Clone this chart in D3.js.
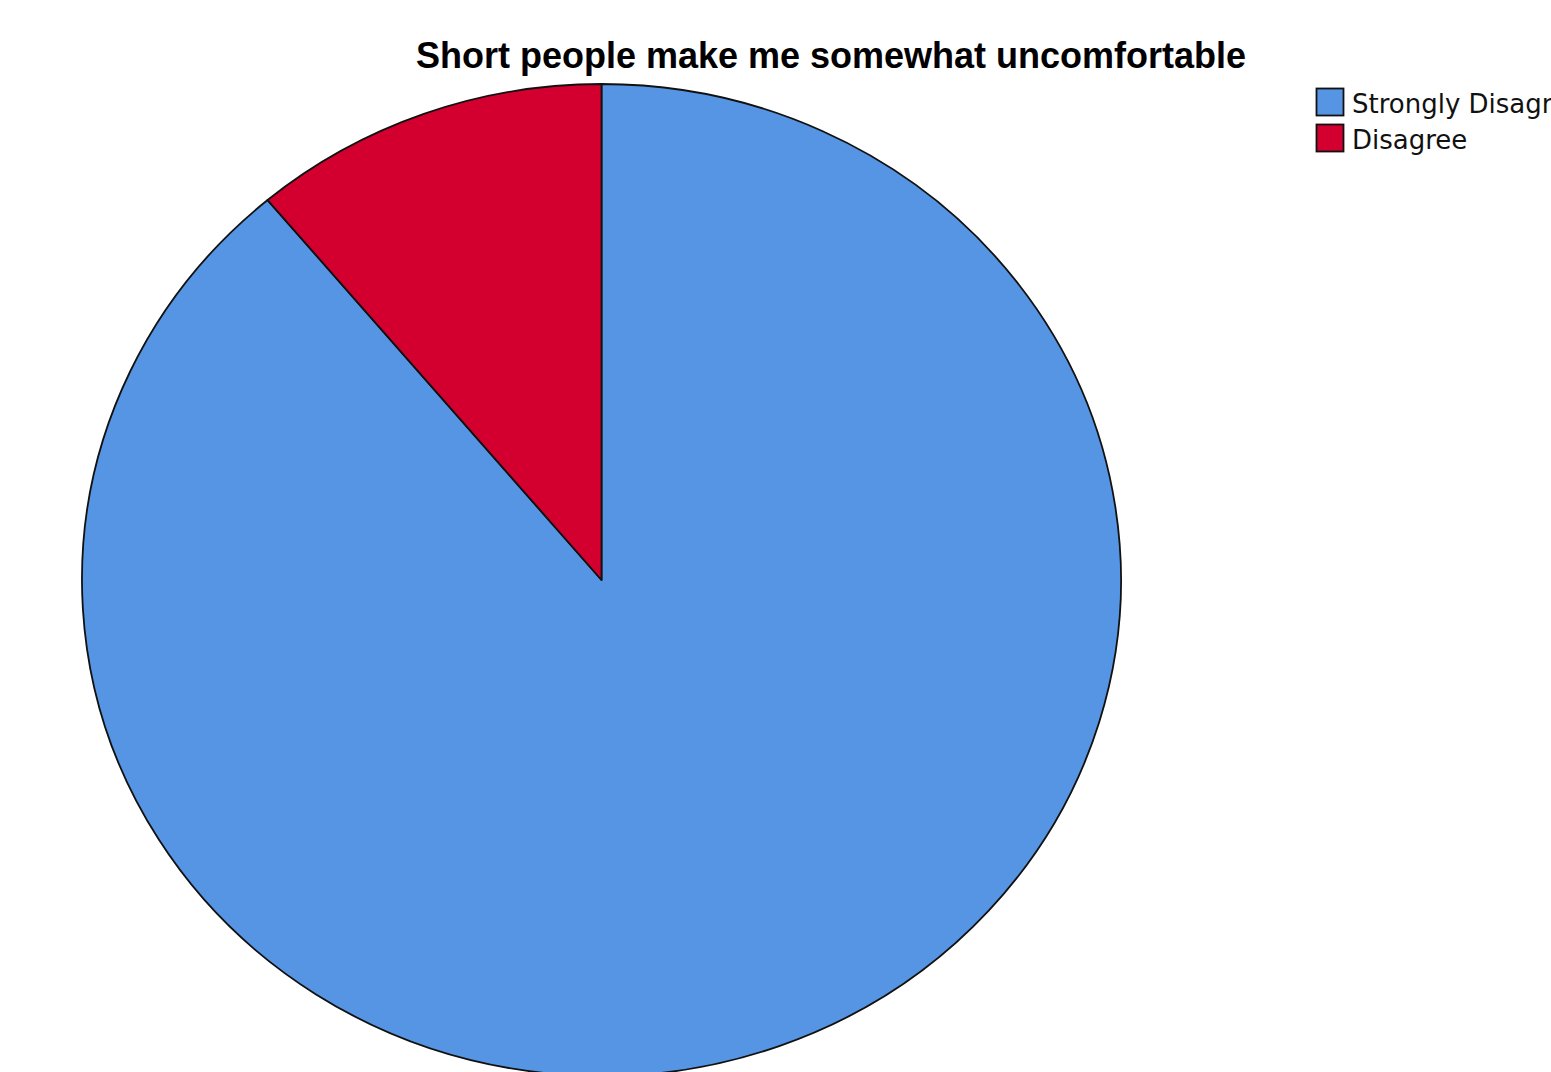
<!DOCTYPE html>
<html>
<head>
<meta charset="utf-8">
<script src="https://cdn.jsdelivr.net/npm/d3@7/dist/d3.min.js"></script>
<style>
  html, body { margin: 0; padding: 0; background: #fff; overflow: hidden; }
  svg { display: block; }
</style>
</head>
<body>
<svg id="chart" width="1551" height="1072"></svg>
<script>
const title = "Short people make me somewhat uncomfortable";
const categories = ["Strongly Disagree", "Disagree"];
const values = [8, 1];
const colors = ["#5595E3", "#D3002F"];

const svg = d3.select("#chart");
const cx = 601.5, cy = 580, rx = 519.5, ry = 496;

const data = categories.map((c, i) => ({ name: c, value: values[i], color: colors[i] }));
const pie = d3.pie().value(d => d.value).sort(null);
const arc = d3.arc().innerRadius(0).outerRadius(ry);

const g = svg.append("g")
  .attr("transform", `translate(${cx},${cy}) scale(${rx / ry},1)`);

g.selectAll("path")
  .data(pie(data))
  .join("path")
  .attr("d", arc)
  .attr("fill", d => d.data.color)
  .attr("stroke", "#111")
  .attr("stroke-width", 1.8)
  .attr("stroke-linejoin", "round")
  .attr("vector-effect", "non-scaling-stroke");

svg.append("text")
  .attr("x", 831)
  .attr("y", 68)
  .attr("text-anchor", "middle")
  .attr("font-family", "'Liberation Sans', Arial, sans-serif")
  .attr("font-weight", "bold")
  .attr("font-size", 36)
  .attr("fill", "#000")
  .text(title);

const legend = svg.append("g").attr("transform", "translate(1316,88)");
const item = legend.selectAll("g")
  .data(data)
  .join("g")
  .attr("transform", (d, i) => `translate(0,${i * 36})`);
item.append("rect")
  .attr("x", 0.5).attr("y", 0.5)
  .attr("width", 27).attr("height", 27)
  .attr("fill", d => d.color)
  .attr("stroke", "#111")
  .attr("stroke-width", 1.8);
item.append("text")
  .attr("x", 36)
  .attr("y", 25)
  .attr("font-family", "'DejaVu Sans', Verdana, sans-serif")
  .attr("font-size", 26)
  .attr("fill", "#111")
  .text(d => d.name);
</script>
</body>
</html>
